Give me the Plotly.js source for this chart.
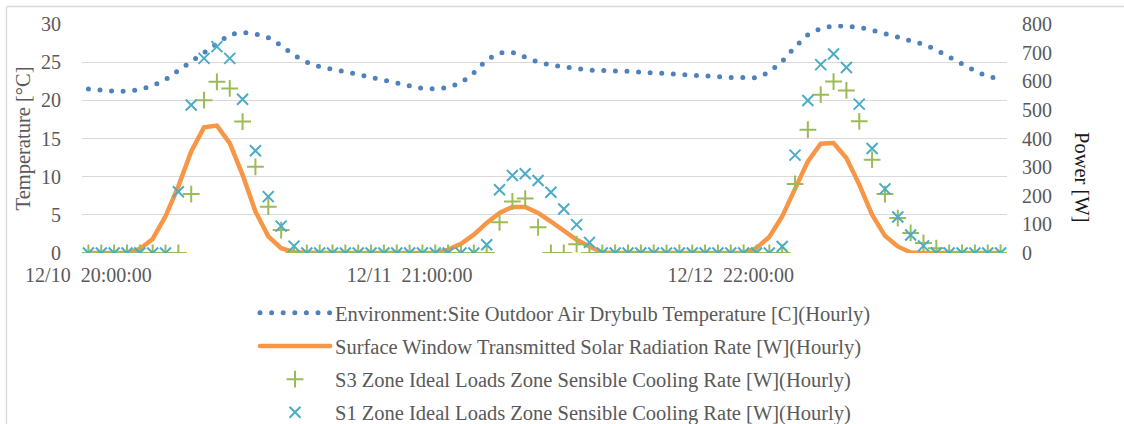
<!DOCTYPE html>
<html>
<head>
<meta charset="utf-8">
<script src="https://cdn.plot.ly/plotly-3.0.1.min.js"></script>
<style>
  html, body { margin: 0; padding: 0; background: #fff; }
  #chart { width: 1124px; height: 424px; }
  .js-line { stroke-linecap: round; }
</style>
</head>
<body>
<div id="chart"></div>
<script>
// Hourly categories (EnergyPlus style timestamps)
const categories = [
  '12/10  20:00:00','12/10  21:00:00','12/10  22:00:00','12/10  23:00:00','12/10  24:00:00',
  '12/11  01:00:00','12/11  02:00:00','12/11  03:00:00','12/11  04:00:00','12/11  05:00:00','12/11  06:00:00',
  '12/11  07:00:00','12/11  08:00:00','12/11  09:00:00','12/11  10:00:00','12/11  11:00:00','12/11  12:00:00',
  '12/11  13:00:00','12/11  14:00:00','12/11  15:00:00','12/11  16:00:00','12/11  17:00:00','12/11  18:00:00',
  '12/11  19:00:00','12/11  20:00:00','12/11  21:00:00','12/11  22:00:00','12/11  23:00:00','12/11  24:00:00',
  '12/12  01:00:00','12/12  02:00:00','12/12  03:00:00','12/12  04:00:00','12/12  05:00:00','12/12  06:00:00',
  '12/12  07:00:00','12/12  08:00:00','12/12  09:00:00','12/12  10:00:00','12/12  11:00:00','12/12  12:00:00',
  '12/12  13:00:00','12/12  14:00:00','12/12  15:00:00','12/12  16:00:00','12/12  17:00:00','12/12  18:00:00',
  '12/12  19:00:00','12/12  20:00:00','12/12  21:00:00','12/12  22:00:00','12/12  23:00:00','12/12  24:00:00',
  '12/13  01:00:00','12/13  02:00:00','12/13  03:00:00','12/13  04:00:00','12/13  05:00:00','12/13  06:00:00',
  '12/13  07:00:00','12/13  08:00:00','12/13  09:00:00','12/13  10:00:00','12/13  11:00:00','12/13  12:00:00',
  '12/13  13:00:00','12/13  14:00:00','12/13  15:00:00','12/13  16:00:00','12/13  17:00:00','12/13  18:00:00',
  '12/13  19:00:00'
];

// Axis labels shown on the category axis
const tickCategories = ['12/10  20:00:00', '12/11  21:00:00', '12/12  22:00:00'];
const tickLabels = ['12/10\u00a0\u00a020:00:00', '12/11\u00a0\u00a021:00:00', '12/12\u00a0\u00a022:00:00'];

// Environment:Site Outdoor Air Drybulb Temperature [C]
const outdoorTempC = [
  21.5, 21.3, 21.2, 21.2, 21.4, 21.9, 22.7, 23.9, 25.1, 26.3, 27.6, 28.6,
  28.9, 28.7, 28.2, 27.2, 25.9, 25.0, 24.4, 24.1, 23.8, 23.4, 23.0, 22.6,
  22.2, 21.8, 21.55, 21.5, 21.7, 22.3, 23.6, 25.3, 26.2, 26.3, 25.6, 25.0,
  24.6, 24.35, 24.1, 23.95, 23.9, 23.9, 23.8, 23.7, 23.6, 23.45, 23.3, 23.15,
  23.05, 23.0, 23.0, 23.0, 22.95, 23.7, 25.1, 27.0, 28.6, 29.4, 29.75, 29.7,
  29.55, 29.2, 28.8, 28.3, 27.8, 27.35, 26.6, 25.7, 24.7, 23.85, 23.1, 22.8
];

// Surface Window Transmitted Solar Radiation Rate [W]
const solarW = [
  0, 0, 0, 0, 14, 49, 128, 233, 355, 439, 445, 384,
  273, 145, 58, 17, 3, 0, 0, 0, 0, 0, 0, 0,
  0, 0, 0, 0, 12, 32, 64, 105, 140, 161, 161, 140,
  110, 78, 46, 23, 2, 0, 0, 0, 0, 0, 0, 0,
  0, 0, 0, 0, 17, 56, 128, 221, 320, 382, 384, 332,
  239, 134, 60, 23, 2, 0, 0, 0, 0, 0, 0, 0
];

// S3 Zone Ideal Loads Zone Sensible Cooling Rate [W]
const s3CoolingW = [
  0, 0, 0, 0, 0, 0, 0, 0, 206, 534, 598, 575,
  459, 301, 162, 80, 0, 0, 0, 0, 0, 0, 0, 0,
  0, 0, 0, 0, 0, 0, 0, 0, 107, 180, 190, 90,
  0, 0, 31, 0, 0, 0, 0, 0, 0, 0, 0, 0,
  0, 0, 0, 0, 0, 0, 0, 241, 431, 553, 599, 568,
  460, 326, 206, 122, 70, 35, 17, 0, 0, 0, 0, 0
];

// S1 Zone Ideal Loads Zone Sensible Cooling Rate [W]
const s1CoolingW = [
  0, 0, 0, 0, 0, 0, 0, 214, 517, 680, 721, 680,
  537, 357, 197, 94, 24, 0, 0, 0, 0, 0, 0, 0,
  0, 0, 0, 0, 0, 0, 0, 29, 221, 271, 277, 253,
  212, 154, 99, 37, 0, 0, 0, 0, 0, 0, 0, 0,
  0, 0, 0, 0, 0, 0, 23, 342, 533, 658, 695, 648,
  520, 365, 224, 126, 63, 25, 0, 0, 0, 0, 0, 0
];

const seriesNames = [
  'Environment:Site Outdoor Air Drybulb Temperature [C](Hourly)',
  'Surface Window Transmitted Solar Radiation Rate [W](Hourly)',
  'S3 Zone Ideal Loads Zone Sensible Cooling Rate [W](Hourly)',
  'S1 Zone Ideal Loads Zone Sensible Cooling Rate [W](Hourly)'
];

const FONT = 'Liberation Serif, Times New Roman, serif';
const GREY = '#595959';

const W = 1124, H = 424;
const M = { l: 82, r: 117, t: 24, b: 171, autoexpand: false };
const pw = W - M.l - M.r, ph = H - M.t - M.b;
const px = x => (x - M.l) / pw;          // pixel -> paper x
const py = y => (H - M.b - y) / ph;      // pixel -> paper y

const traces = [
  {
    x: categories, y: outdoorTempC, name: seriesNames[0],
    type: 'scatter', mode: 'lines', yaxis: 'y', legendgroup: 'g1',
    line: { color: '#4F81BD', width: 5, dash: '0px,11.6px' },
    hoverinfo: 'x+y'
  },
  {
    x: categories, y: solarW, name: seriesNames[1],
    type: 'scatter', mode: 'lines', yaxis: 'y2', legendgroup: 'g2',
    line: { color: '#F79646', width: 4.5 },
    hoverinfo: 'x+y'
  },
  {
    x: categories, y: s3CoolingW, name: seriesNames[2],
    type: 'scatter', mode: 'markers', yaxis: 'y2', legendgroup: 'g3',
    marker: { symbol: 'cross-thin', size: 12, color: '#9BBB59', line: { color: '#9BBB59', width: 2 } },
    hoverinfo: 'x+y'
  },
  {
    x: categories, y: s1CoolingW, name: seriesNames[3],
    type: 'scatter', mode: 'markers', yaxis: 'y2', legendgroup: 'g4',
    marker: { symbol: 'x-thin', size: 11, color: '#4BACC6', line: { color: '#4BACC6', width: 2 } },
    hoverinfo: 'x+y'
  }
];

const layout = {
  width: W, height: H,
  margin: M,
  paper_bgcolor: '#ffffff', plot_bgcolor: '#ffffff',
  font: { family: FONT, size: 20, color: GREY },
  showlegend: true,
  legend: {
    x: px(255), y: py(293), xanchor: 'left', yanchor: 'top',
    orientation: 'v', itemwidth: 70, tracegroupgap: 3.5,
    font: { family: FONT, size: 20.5, color: GREY },
    bgcolor: 'rgba(0,0,0,0)', traceorder: 'grouped'
  },
  xaxis: {
    type: 'category', range: [-0.5, categories.length - 0.5],
    tickmode: 'array', tickvals: tickCategories, ticktext: tickLabels,
    showgrid: false, zeroline: false, showline: false,
    ticks: 'outside', ticklen: 4, tickcolor: 'rgba(0,0,0,0)',
    tickfont: { family: FONT, size: 20, color: GREY },
    fixedrange: true
  },
  yaxis: {
    range: [0, 30], dtick: 5, tick0: 0,
    showgrid: true, gridcolor: '#D9D9D9', gridwidth: 1.3,
    zeroline: false, showline: false,
    ticks: 'outside', ticklen: 16, tickcolor: 'rgba(0,0,0,0)',
    tickfont: { family: FONT, size: 20, color: GREY },
    title: { text: 'Temperature [°C]', font: { family: FONT, size: 20.5, color: GREY }, standoff: 4 },
    fixedrange: true
  },
  yaxis2: {
    overlaying: 'y', side: 'right', anchor: 'x',
    range: [0, 800], dtick: 100, tick0: 0,
    showgrid: false, zeroline: false, showline: false,
    ticks: 'outside', ticklen: 10, tickcolor: 'rgba(0,0,0,0)',
    tickfont: { family: FONT, size: 20, color: GREY },
    fixedrange: true
  },
  annotations: [
    {
      text: 'Power [W]', xref: 'paper', yref: 'paper',
      x: px(1082), y: py(177), xanchor: 'center', yanchor: 'middle',
      textangle: 90, showarrow: false,
      font: { family: FONT, size: 20.5, color: '#1a1a1a' }
    }
  ],
  shapes: [
    { type: 'line', xref: 'paper', yref: 'paper', x0: px(6.5), x1: px(6.5), y0: py(6.5), y1: py(430),
      line: { color: '#D9D9D9', width: 1.3 } },
    { type: 'line', xref: 'paper', yref: 'paper', x0: px(6.5), x1: px(1130), y0: py(6.5), y1: py(6.5),
      line: { color: '#D9D9D9', width: 1.3 } }
  ]
};

Plotly.newPlot('chart', traces, layout, { staticPlot: true, displayModeBar: false });
</script>
</body>
</html>
